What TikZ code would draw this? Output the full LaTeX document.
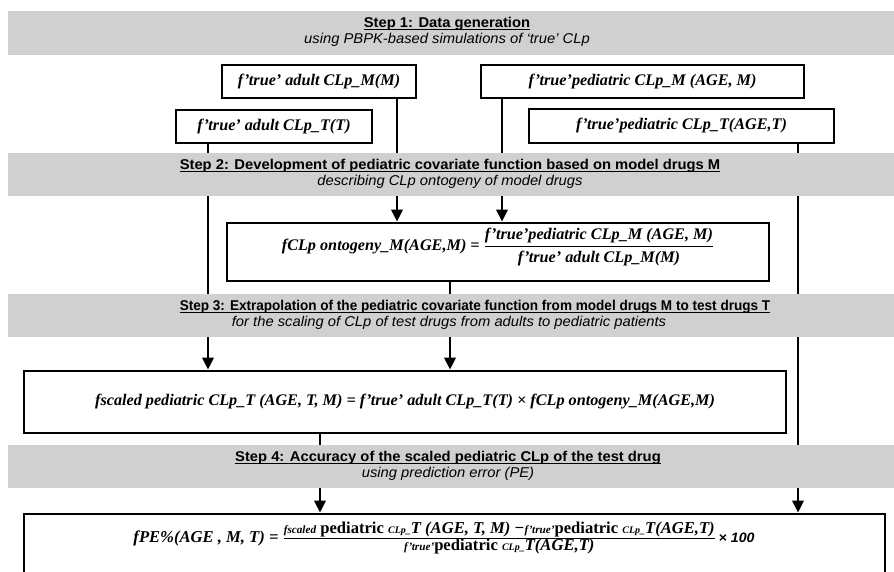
\documentclass[tikz,border=0pt]{standalone}
\usepackage{fontspec}
\usetikzlibrary{arrows.meta}
\newfontfamily\hdr[FakeStretch=1.04]{Liberation Sans}
\newfontfamily\hdrn[FakeStretch=0.955]{Liberation Sans}
\newfontfamily\eqf{Liberation Serif}
\definecolor{bandgray}{HTML}{D0D0D0}
\tikzset{
  band/.style={fill=bandgray,draw=none},
  ttl/.style={font=\hdr\bfseries\fontsize{14.2}{16}\selectfont,inner sep=0pt,anchor=base},
  sub/.style={font=\hdr\itshape\fontsize{14.2}{16}\selectfont,inner sep=0pt,anchor=base},
  uline/.style={line width=1.1pt},
  fbox/.style={draw=black,line width=2.6pt,fill=white,inner sep=0pt},
  eq/.style={font=\eqf\bfseries\itshape\fontsize{16.2}{18}\selectfont,inner sep=0pt},
  arr/.style={line width=2.8pt,-{Triangle[length=12pt,width=11pt]}}
}
\begin{document}
\begin{tikzpicture}[x=1pt,y=-1pt]
\useasboundingbox (0,0) rectangle (894,571);
\begin{scope}
\clip (0,0) rectangle (894,571);
% boxes
\node[fbox,minimum width=194pt,minimum height=33pt] (aM) at (319,81.5) {};
\node[fbox,minimum width=323pt,minimum height=33pt] (pM) at (642.5,81.5) {};
\node[fbox,minimum width=196pt,minimum height=33pt] (aT) at (274,126.5) {};
\node[fbox,minimum width=305pt,minimum height=34pt] (pT) at (681.5,126) {};
\node[fbox,minimum width=542pt,minimum height=58pt] (ont) at (498,252) {};
\node[fbox,minimum width=762pt,minimum height=62pt] (sc) at (405,402) {};
\node[fbox,minimum width=861pt,minimum height=100pt] (pe) at (454.5,564) {};
% x positions of connectors
\coordinate (xa) at (397,0);
\coordinate (xb) at (502,0);
\coordinate (xc) at (208,0);
\coordinate (xd) at (450,0);
\coordinate (xe) at (798,0);
\coordinate (xf) at (320,0);
% connectors
\draw[arr] (aM.south -| xa) -- (ont.north -| xa);
\draw[arr] (pM.south -| xb) -- (ont.north -| xb);
\draw[arr] (aT.south -| xc) -- (sc.north -| xc);
\draw[arr] (ont.south -| xd) -- (sc.north -| xd);
\draw[arr] (pT.south -| xe) -- (pe.north -| xe);
\draw[arr] (sc.south -| xf) -- (pe.north -| xf);
% bands on top
\fill[band] (8,11) rectangle (894,55);
\fill[band] (8,153) rectangle (894,196);
\fill[band] (8,294) rectangle (894,337);
\fill[band] (8,445) rectangle (894,488);
\end{scope}
% band texts
\node[ttl] (t1) at (447,27.3) {Step 1: Data generation};
\node[sub] (s1) at (447,43.7) {using PBPK-based simulations of ‘true’ CLp};
\node[ttl] (t2) at (450,169.3) {Step 2: Development of pediatric covariate function based on model drugs M};
\node[sub] (s2) at (450,185.7) {describing CLp ontogeny of model drugs};
\node[ttl,font=\hdrn\bfseries\fontsize{14.2}{16}\selectfont] (t3) at (475,310.3) {Step 3: Extrapolation of the pediatric covariate function from model drugs M to test drugs T};
\node[sub] (s3) at (449,326.7) {for the scaling of CLp of test drugs from adults to pediatric patients};
\node[ttl] (t4) at (448,461.3) {Step 4: Accuracy of the scaled pediatric CLp of the test drug};
\node[sub] (s4) at (448,477.7) {using prediction error (PE)};
\foreach \t in {t1,t2,t3,t4}
  \draw[uline] ([yshift=-2.6pt]\t.base west) -- ([yshift=-2.6pt]\t.base east);
% box texts
\node[eq] at (aM.center) {f’true’ adult CLp\_M(M)};
\node[eq] at (pM.center) {f’true’pediatric CLp\_M (AGE, M)};
\node[eq] at (aT.center) {f’true’ adult CLp\_T(T)};
\node[eq] at (pT.center) {f’true’pediatric CLp\_T(AGE,T)};
\node[eq] at (498,247) {fCLp ontogeny\_M(AGE,M) = $\displaystyle\frac{\mbox{f’true’pediatric CLp\_M (AGE, M)}}{\mbox{f’true’ adult CLp\_M(M)}}$};
\node[eq] at (sc.center) {fscaled pediatric CLp\_T (AGE, T, M) = f’true’ adult CLp\_T(T) × fCLp ontogeny\_M(AGE,M)};
\node[eq,font=\eqf\bfseries\itshape\fontsize{16.6}{18}\selectfont] at (444,538) {fPE\%(AGE , M, T) = $\frac{\mbox{{\fontsize{11.2}{12}\selectfont fscaled} {\upshape pediatric} {\fontsize{10}{11}\selectfont CLp\_}T (AGE, T, M) −{\fontsize{11.2}{12}\selectfont f’true’}{\upshape pediatric} {\fontsize{10}{11}\selectfont CLp\_}T(AGE,T)}}{\mbox{{\fontsize{11.2}{12}\selectfont f’true’}{\upshape pediatric} {\fontsize{10}{11}\selectfont CLp\_}T(AGE,T)}}$\,{\hdr\fontsize{13.6}{15}\selectfont × 100}};
\end{tikzpicture}
\end{document}
